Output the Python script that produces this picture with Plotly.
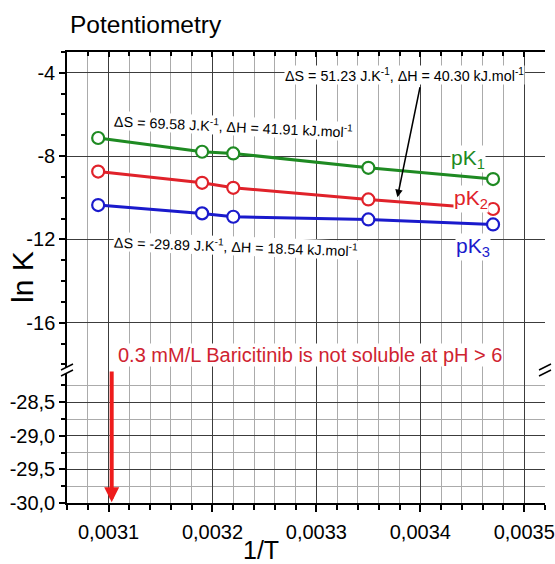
import plotly.graph_objects as go

# ---------------- data ----------------
inv_T = [0.00309, 0.00319, 0.00322, 0.00335, 0.00347]
lnK_1 = [-7.13, -7.79, -7.87, -8.56, -9.10]
lnK_2 = [-8.74, -9.28, -9.52, -10.08, -10.54]
lnK_3 = [-10.35, -10.75, -10.91, -11.04, -11.28]
series_labels = ["pK<sub>1</sub>", "pK<sub>2</sub>", "pK<sub>3</sub>"]

thermo_texts = [
    "ΔS = 69.58 J.K<sup>-1</sup>, ΔH = 41.91 kJ.mol<sup>-1</sup>",
    "ΔS = 51.23 J.K<sup>-1</sup>, ΔH = 40.30 kJ.mol<sup>-1</sup>",
    "ΔS = -29.89 J.K<sup>-1</sup>, ΔH = 18.54 kJ.mol<sup>-1</sup>",
]
note_text = "0.3 mM/L Baricitinib is not soluble at pH > 6"
insoluble_x = 0.003103

x_tickvals = [0.0031, 0.0032, 0.0033, 0.0034, 0.0035]
x_ticktext = ["0,0031", "0,0032", "0,0033", "0,0034", "0,0035"]
upper_tickvals = [-4, -8, -12, -16]
upper_ticktext = ["-4", "-8", "-12", "-16"]
upper_minor_grid = [-7, -9, -11, -13, -15, -17]
lower_tickvals = [-28.5, -29.0, -29.5, -30.0]
lower_ticktext = ["-28,5", "-29,0", "-29,5", "-30,0"]

# ---------------- style ----------------
W, H = 555, 564
ML, MR, MT, MB = 67, 10, 52, 61
PW, PH = W - ML - MR, H - MT - MB
SANS = "Liberation Sans, Arial, sans-serif"
GREEN, RED, BLUE = "#1e8a22", "#e0222a", "#1a1acc"
MAJ_GRID, MIN_GRID = "#3c3c3c", "#ababab"
XR = [0.00306, 0.00352]
UPPER_R = [-18.27, -3.0]
LOWER_R = [-30.0, -28.02]
BRK = (H - MB - 370) / PH  # paper y of the axis break


def px2paper(px, py):
    return (px - ML) / PW, (H - MB - py) / PH


fig = go.Figure()
for xs, ys, col in [(inv_T, lnK_1, GREEN), (inv_T, lnK_2, RED), (inv_T, lnK_3, BLUE)]:
    fig.add_trace(go.Scatter(
        x=xs, y=ys, xaxis="x2", yaxis="y", mode="lines+markers",
        line=dict(color=col, width=3),
        marker=dict(symbol="circle", size=12, color="white",
                    line=dict(color=col, width=2.2)),
        showlegend=False, hoverinfo="x+y"))

tickfont = dict(family=SANS, size=20, color="black")
xcommon = dict(range=XR, tickvals=x_tickvals, ticktext=x_ticktext, automargin=False,
               showgrid=True, gridcolor=MAJ_GRID, gridwidth=1,
               showline=True, linecolor="black", linewidth=1.5,
               zeroline=False, tickcolor="black", tickwidth=1.5)

fig.update_layout(
    width=W, height=H, margin=dict(l=ML, r=MR, t=MT, b=MB, autoexpand=False),
    paper_bgcolor="white", plot_bgcolor="white", showlegend=False,
    xaxis=dict(**xcommon, domain=[0, 1], anchor="y2", side="bottom",
               ticks="outside", ticklen=7, tickfont=tickfont, ticklabelstandoff=3,
               minor=dict(tick0=0.0031, dtick=0.00002, ticks="outside", ticklen=5,
                          tickcolor="black", showgrid=True, gridcolor=MIN_GRID)),
    xaxis2=dict(**xcommon, domain=[0, 1], anchor="y", side="top", matches="x",
                ticks="inside", ticklen=5, showticklabels=False,
                minor=dict(tick0=0.0031, dtick=0.00002, ticks="inside", ticklen=4,
                           tickcolor="black", showgrid=True, gridcolor=MIN_GRID)),
    yaxis=dict(domain=[BRK, 1], anchor="x2", range=UPPER_R, automargin=False,
               tickvals=upper_tickvals, ticktext=upper_ticktext,
               ticks="outside", ticklen=6, tickwidth=1.5, tickcolor="black",
               tickfont=tickfont, showgrid=True, gridcolor=MAJ_GRID,
               showline=True, linecolor="black", linewidth=1.5, zeroline=False,
               minor=dict(tick0=-4, dtick=1, ticks="outside", ticklen=4,
                          tickcolor="black", showgrid=False)),
    yaxis3=dict(overlaying="y", anchor="x2", side="right", range=UPPER_R, automargin=False,
                tickvals=upper_minor_grid, showticklabels=False,
                ticks="inside", ticklen=4, tickcolor="black",
                showgrid=True, gridcolor=MIN_GRID, gridwidth=1,
                showline=True, linecolor="black", linewidth=1.5, zeroline=False,
                minor=dict(tick0=-4, dtick=1, ticks="inside", ticklen=4,
                           tickcolor="black", showgrid=False)),
    yaxis2=dict(domain=[0, BRK], anchor="x", range=LOWER_R, automargin=False,
                tickvals=lower_tickvals, ticktext=lower_ticktext,
                ticks="outside", ticklen=6, tickwidth=1.5, tickcolor="black",
                tickfont=tickfont, showgrid=True, gridcolor=MAJ_GRID,
                showline=True, linecolor="black", linewidth=1.5, zeroline=False,
                minor=dict(tick0=-30, dtick=0.25, ticks="outside", ticklen=4,
                           tickcolor="black", showgrid=True, gridcolor=MIN_GRID)),
    yaxis4=dict(overlaying="y2", anchor="x", side="right", range=LOWER_R, automargin=False,
                tickvals=lower_tickvals, showticklabels=False,
                ticks="inside", ticklen=4, tickcolor="black", showgrid=False,
                showline=True, linecolor="black", linewidth=1.5, zeroline=False,
                minor=dict(tick0=-30, dtick=0.25, ticks="inside", ticklen=4,
                           tickcolor="black", showgrid=False)),
)

ann = []
# title
tx, ty = px2paper(68, 24)
ann.append(dict(text="Potentiometry", xref="paper", yref="paper", x=tx, y=ty,
                xanchor="left", yanchor="middle", showarrow=False,
                font=dict(family=SANS, size=24.5, color="black")))
# axis titles
tx, ty = px2paper(261, 550)
ann.append(dict(text="1/T", xref="paper", yref="paper", x=tx, y=ty,
                xanchor="center", yanchor="middle", showarrow=False,
                font=dict(family=SANS, size=25, color="black")))
tx, ty = px2paper(22, 277)
ann.append(dict(text="ln K", xref="paper", yref="paper", x=tx, y=ty, textangle=-90,
                xanchor="center", yanchor="middle", showarrow=False,
                font=dict(family=SANS, size=30, color="black")))

# thermodynamic texts
thermo_pos = [(0.0032200, -6.55, 2.7), (0.003385, -4.09, 0), (0.0032226, -12.32, 2.1)]
for txt, (x, y, ang) in zip(thermo_texts, thermo_pos):
    ann.append(dict(text=txt, xref="x2", yref="y", x=x, y=y, textangle=ang,
                    xanchor="center", yanchor="middle", showarrow=False,
                    bgcolor="white", borderpad=0,
                    font=dict(family=SANS, size=14.3, color="black")))
# arrow from the middle text to the red line
ann.append(dict(text="", xref="x2", yref="y", x=0.003378, y=-9.97,
                axref="x2", ayref="y", ax=0.0034, ay=-4.62, showarrow=True,
                arrowhead=2, arrowsize=1, arrowwidth=1.5, arrowcolor="black"))

# series labels
label_pos = [(0.003446, -8.12), (0.003449, -10.08), (0.003451, -12.35)]
for txt, (x, y), col in zip(series_labels, label_pos, [GREEN, RED, BLUE]):
    ann.append(dict(text=txt, xref="x2", yref="y", x=x, y=y,
                    xanchor="center", yanchor="middle", showarrow=False,
                    bgcolor="white", borderpad=0,
                    font=dict(family=SANS, size=21, color=col)))

# solubility note and red arrow
ann.append(dict(text=note_text, xref="x2", yref="y", x=0.0032937, y=-17.55,
                xanchor="center", yanchor="middle", showarrow=False,
                bgcolor="white", borderpad=0,
                font=dict(family=SANS, size=20, color="#cf2330")))
ann.append(dict(text="", xref="x", yref="y2", x=insoluble_x, y=-29.99,
                axref="x", ayref="y2", ax=insoluble_x, ay=LOWER_R[1], showarrow=True,
                arrowhead=2, arrowsize=0.75, arrowwidth=4, arrowcolor="#ee1c1c"))
fig.update_layout(annotations=ann)

# axis break marks
shapes = []
for bx in (ML, ML + PW):
    p1 = px2paper(bx - 6, 370)
    p2 = px2paper(bx + 6, 364)
    p3 = px2paper(bx + 6, 370)
    p4 = px2paper(bx - 6, 376)
    path = "M {} {} L {} {} L {} {} L {} {} Z".format(p1[0], p1[1], p2[0], p2[1],
                                                       p3[0], p3[1], p4[0], p4[1])
    shapes.append(dict(type="path", xref="paper", yref="paper", path=path,
                       fillcolor="white", line=dict(width=0)))
    for a, b in ((p1, p2), (p4, p3)):
        shapes.append(dict(type="line", xref="paper", yref="paper",
                           x0=a[0], y0=a[1], x1=b[0], y1=b[1],
                           line=dict(color="black", width=1.5)))
fig.update_layout(shapes=shapes)

# remove the browser's default page margin so the figure sits at the window's corner
fig.write_html("out.html", config={"displayModeBar": False},
               post_script="document.body.style.margin='0';")
